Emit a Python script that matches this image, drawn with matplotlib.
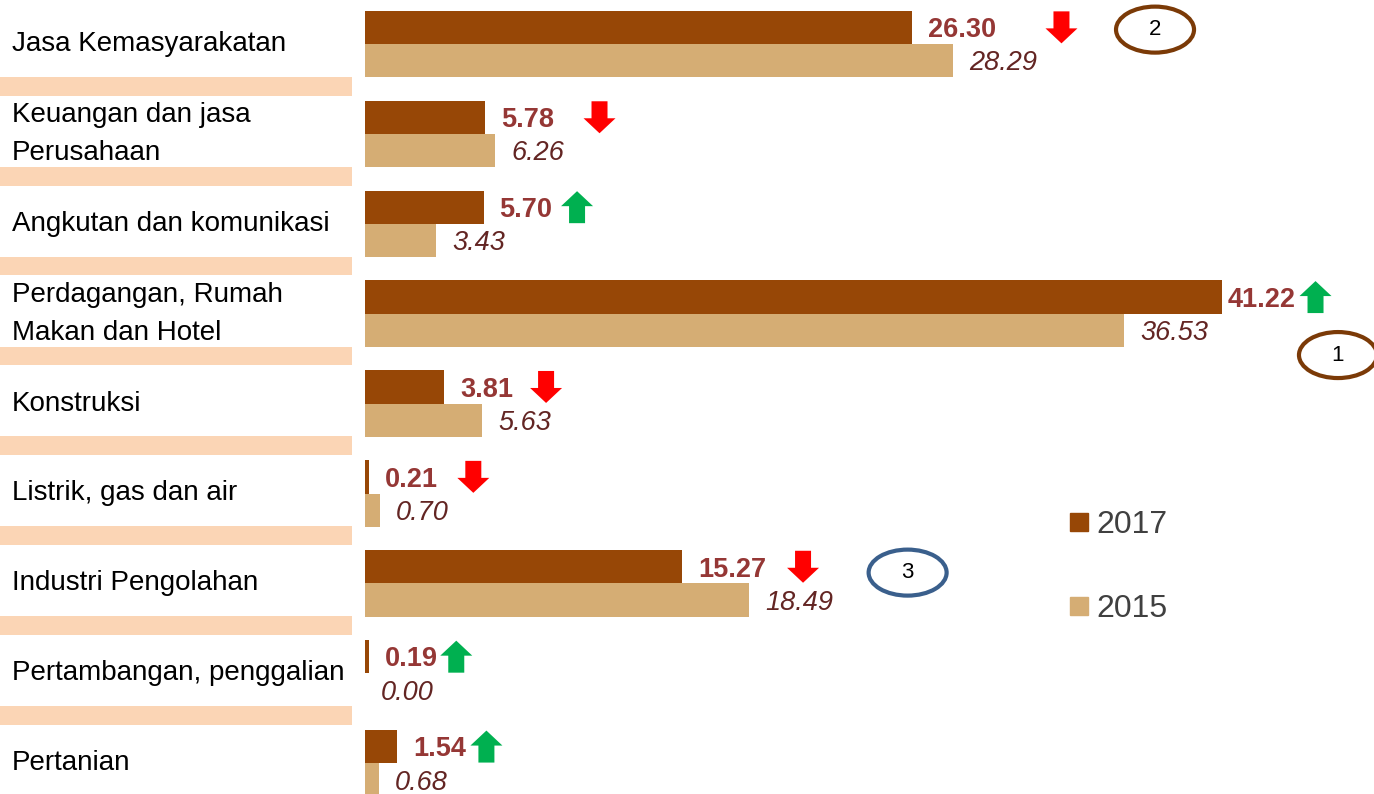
import matplotlib.pyplot as plt
from matplotlib.patches import Rectangle, Ellipse, Polygon
from matplotlib.lines import Line2D
from matplotlib.transforms import blended_transform_factory, ScaledTranslation
import numpy as np

plt.rcParams['font.family'] = ['Liberation Sans', 'DejaVu Sans']

# share of workers by sector (%), top row first
sectors = ['Jasa Kemasyarakatan', 'Keuangan dan jasa\nPerusahaan', 'Angkutan dan komunikasi',
           'Perdagangan, Rumah\nMakan dan Hotel', 'Konstruksi', 'Listrik, gas dan air',
           'Industri Pengolahan', 'Pertambangan, penggalian', 'Pertanian']
share_2017 = [26.30, 5.78, 5.70, 41.22, 3.81, 0.21, 15.27, 0.19, 1.54]
share_2015 = [28.29, 6.26, 3.43, 36.53, 5.63, 0.70, 18.49, 0.00, 0.68]
years = ['2017', '2015']

# ranking callouts: text, row
rank_labels = ['2', '1', '3']
rank_rows = [0, 3, 6]

# layout
arrow_gap = [7.2, 5.5, 4.5, 4.5, 4.9, 5.0, 5.8, 4.2, 4.3]   # data units from 2017 bar end
label_pad = [11.5, 11.5, 11.5, 4, 11.5, 11.5, 11.5, 11.5, 11.5]  # points
rank_x = [38.0, 46.8, 26.1]
rank_dy = [-0.16, 0.46, -0.12]
rank_edge = ['#7B3A07', '#7B3A07', '#3A5F8C']

c17, c15 = '#974706', '#D5AD74'

fig = plt.figure(figsize=(13.74, 7.94), dpi=100)
ax = fig.add_axes([365 / 1374, 0, 1 - 365 / 1374, 1])
ax.set_xlim(0, 1009 / 20.79)
ax.set_ylim((794 - 44) / 89.9, -44 / 89.9)
ax.axis('off')

y = np.arange(len(sectors))
h = 0.37
ax.barh(y - h / 2, share_2017, height=h, color=c17)
ax.barh(y + h / 2, share_2015, height=h, color=c15)

for i in range(len(sectors)):
    ax.annotate(f'{share_2017[i]:.2f}', (share_2017[i], y[i] - h / 2), xytext=(label_pad[i], -2),
                textcoords='offset points', va='center', ha='left', fontsize=19.5,
                fontweight='bold', color='#953735')
    ax.annotate(f'{share_2015[i]:.2f}', (share_2015[i], y[i] + h / 2), xytext=(11.5, -2),
                textcoords='offset points', va='center', ha='left', fontsize=19.5,
                style='italic', color='#632523')

# trend arrows (pixels, y up)
up = np.array([[0, 16], [16, 1], [8, 1], [8, -16], [-8, -16], [-8, 1], [-16, 1]]) / 100.0
for i in range(len(sectors)):
    rising = share_2017[i] > share_2015[i]
    verts = up if rising else up * [1, -1]
    tr = fig.dpi_scale_trans + ScaledTranslation(share_2017[i] + arrow_gap[i], y[i] - h / 2, ax.transData)
    ax.add_patch(Polygon(verts, closed=True, transform=tr, clip_on=False,
                         color='#00B050' if rising else '#FF0000', lw=0))

# sector names and separator bands on the left
tl = blended_transform_factory(fig.transFigure, ax.transData)
for i, name in enumerate(sectors):
    fig.text(12 / 1374, y[i], name, transform=tl, va='center', ha='left', fontsize=20,
             color='black', linespacing=1.6)
for i in range(len(sectors) - 1):
    ax.add_patch(Rectangle((0, y[i] + 0.47 - 0.105), 352 / 1374, 0.21, transform=tl,
                           color='#FBD5B5', lw=0, clip_on=False))

# rank callouts
for lab, r, x, dy, ec in zip(rank_labels, rank_rows, rank_x, rank_dy, rank_edge):
    ax.add_patch(Ellipse((x, r + dy), 78 / 20.79, 46 / 89.9, fill=False, ec=ec, lw=3, clip_on=False))
    ax.text(x, r + dy, lab, ha='center', va='center', fontsize=16, color='black')

handles = [Line2D([], [], ls='none', marker='s', markersize=13.5, color=c) for c in (c17, c15)]
leg = fig.legend(handles, years, loc='center left', bbox_to_anchor=(1052 / 1374, 1 - 567 / 794),
                 frameon=False, fontsize=23, labelspacing=1.7, handletextpad=0.1,
                 handlelength=0.9, borderaxespad=0)
for t in leg.get_texts():
    t.set_color('#404040')

fig.savefig('out.png', dpi=100)
